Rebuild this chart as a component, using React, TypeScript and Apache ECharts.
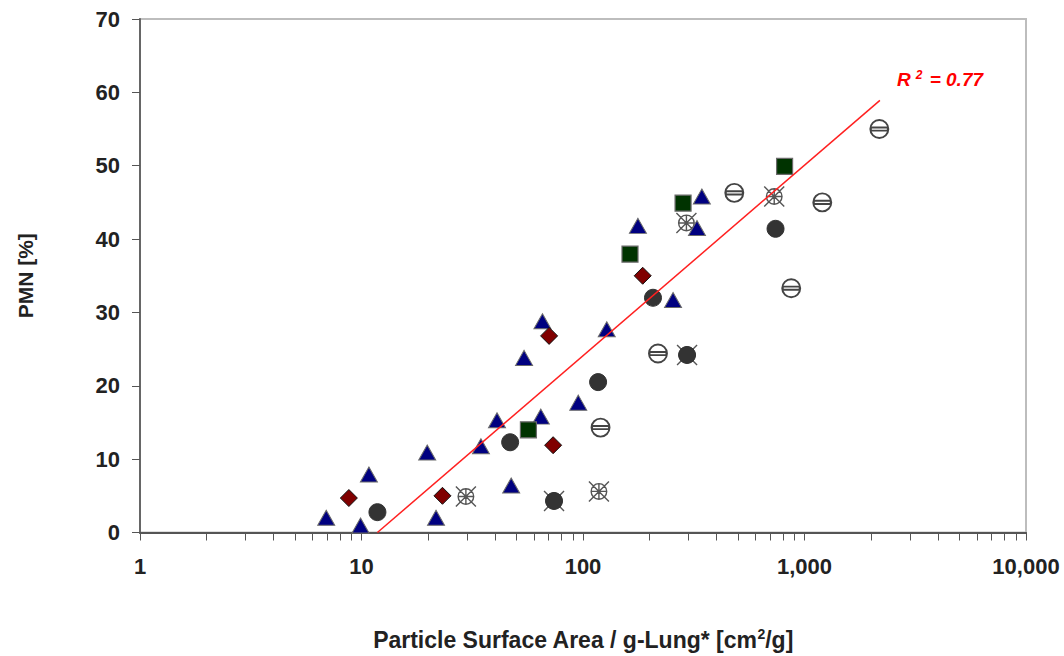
import React, { useEffect, useRef } from "react";
import * as echarts from "echarts";

// Tick values
const xLabelTicks = [1, 10, 100, 1000, 10000];
const xMinorTicks = [
  1, 2, 3, 4, 5, 6, 7, 8, 9,
  10, 20, 30, 40, 50, 60, 70, 80, 90,
  100, 200, 300, 400, 500, 600, 700, 800, 900,
  1000, 2000, 3000, 4000, 5000, 6000, 7000, 8000, 9000,
  10000,
];

// Data series [surface area cm2/g-lung, PMN %]
const triangles: number[][] = [
  [6.93, 2.0], [9.9, 0.95], [10.8, 7.9], [19.8, 10.9], [21.7, 2.0],
  [34.6, 11.75], [40.9, 15.3], [47.4, 6.4], [54.2, 23.8], [64.5, 15.8],
  [65.6, 28.8], [95.2, 17.7], [128, 27.7], [177, 41.8], [255, 31.7],
  [327, 41.5], [344, 45.8],
];
const darkCircles: number[][] = [
  [11.8, 2.77], [46.9, 12.3], [74, 4.3], [117, 20.5], [207, 32],
  [295, 24.2], [740, 41.4],
];
const diamonds: number[][] = [
  [8.77, 4.7], [23.2, 5.0], [70.3, 26.8], [73.3, 11.9], [186, 35],
];
const squares: number[][] = [
  [56.7, 14.0], [163, 37.95], [283, 44.9], [813, 49.9],
];
const crossedCircles: number[][] = [
  [29.6, 4.9], [74, 4.3], [118, 5.6], [293, 42.2], [295, 24.2], [730, 45.8],
];
const barCircles: number[][] = [
  [120, 14.3], [218, 24.4], [482, 46.3], [871, 33.3], [1203, 45.0], [2177, 55],
];
const fitLine: number[][] = [
  [11.8, 0], [2190, 58.9],
];

const CROSSED_PATH =
  "path://M3,10 A7,7 0 1,0 17,10 A7,7 0 1,0 3,10 Z M1,1 L19,19 M19,1 L1,19 M10,3 L10,17 M3,10 L17,10";
const BAR_PATH =
  "path://M2,10 A8,8 0 1,0 18,10 A8,8 0 1,0 2,10 Z M2.5,8.6 L17.5,8.6 L17.5,11.4 L2.5,11.4 Z";

const FONT = "'Liberation Sans', Arial, sans-serif";

export default function App() {
  const ref = useRef<HTMLDivElement>(null);

  useEffect(() => {
    if (!ref.current) return;
    const chart = echarts.init(ref.current, undefined, { renderer: "svg" });
    const option: any = {
      animation: false,
      backgroundColor: "#ffffff",
      grid: {
        left: 140,
        top: 19,
        right: 38,
        bottom: 123,
        show: true,
        borderColor: "#bdbdbd",
        borderWidth: 2,
        backgroundColor: "transparent",
      },
      xAxis: {
        type: "log",
        logBase: 10,
        min: 1,
        max: 10000,
        name: "{a|Particle Surface Area / g-Lung* [cm}{s|2}{a|/g]}",
        nameLocation: "middle",
        nameGap: 94,
        nameTextStyle: {
          rich: {
            a: { fontFamily: FONT, fontWeight: "bold", fontSize: 23, color: "#222" },
            s: { fontFamily: FONT, fontWeight: "bold", fontSize: 14, color: "#222", verticalAlign: "top", padding: [0, 0, 12, 0] },
          },
        },
        axisLine: { show: true, lineStyle: { color: "#555", width: 2 } },
        axisTick: {
          show: true,
          inside: false,
          length: 8,
          customValues: xMinorTicks,
          lineStyle: { color: "#555", width: 1 },
        },
        axisLabel: {
          customValues: xLabelTicks,
          margin: 23,
          fontFamily: FONT,
          fontWeight: "bold",
          fontSize: 22,
          color: "#222",
          formatter: (v: number) => Math.round(v).toLocaleString("en-US"),
        },
        splitLine: { show: false },
        minorTick: { show: false },
      },
      yAxis: {
        type: "value",
        min: 0,
        max: 70,
        interval: 10,
        name: "PMN [%]",
        nameLocation: "middle",
        nameGap: 104,
        nameTextStyle: { fontFamily: FONT, fontWeight: "bold", fontSize: 21, color: "#222" },
        axisLine: { show: true, lineStyle: { color: "#666", width: 2 } },
        axisTick: { show: true, inside: false, length: 8, lineStyle: { color: "#555", width: 1 } },
        axisLabel: {
          margin: 20,
          fontFamily: FONT,
          fontWeight: "bold",
          fontSize: 22,
          color: "#222",
        },
        splitLine: { show: false },
      },
      graphic: [
        {
          type: "text",
          left: 897,
          top: 69,
          style: {
            text: "{r|R}{s|2}{r| = 0.77}",
            rich: {
              r: { fontFamily: FONT, fontWeight: "bold", fontStyle: "italic", fontSize: 19, fill: "#ff0000", color: "#ff0000" },
              s: { fontFamily: FONT, fontWeight: "bold", fontStyle: "italic", fontSize: 12, fill: "#ff0000", color: "#ff0000", verticalAlign: "top", padding: [0, 2, 9, 5] },
            },
          },
        },
      ],
      series: [
        {
          type: "scatter",
          name: "crossed",
          data: crossedCircles,
          symbol: CROSSED_PATH,
          symbolSize: 20,
          itemStyle: { color: "#ffffff", borderColor: "#555", borderWidth: 1.4, opacity: 1 },
          z: 2,
        },
        {
          type: "scatter",
          name: "bar",
          data: barCircles,
          symbol: BAR_PATH,
          symbolSize: 18,
          itemStyle: { color: "#ffffff", borderColor: "#444", borderWidth: 1.9, opacity: 1 },
          z: 2,
        },
        {
          type: "scatter",
          name: "triangles",
          data: triangles,
          symbol: "triangle",
          symbolSize: [17, 15],
          itemStyle: { color: "#000080", borderColor: "#6a6a6a", borderWidth: 1, opacity: 1 },
          z: 3,
        },
        {
          type: "scatter",
          name: "diamonds",
          data: diamonds,
          symbol: "diamond",
          symbolSize: 17,
          itemStyle: { color: "#800000", borderColor: "#111", borderWidth: 1, opacity: 1 },
          z: 3,
        },
        {
          type: "scatter",
          name: "squares",
          data: squares,
          symbol: "rect",
          symbolSize: 16,
          itemStyle: { color: "#003300", borderColor: "#6a6a6a", borderWidth: 1.2, opacity: 1 },
          z: 3,
        },
        {
          type: "scatter",
          name: "circles",
          data: darkCircles,
          symbol: "circle",
          symbolSize: 17,
          itemStyle: { color: "#333333", borderColor: "#333333", borderWidth: 1, opacity: 1 },
          z: 4,
        },
        {
          type: "line",
          name: "fit",
          data: fitLine,
          showSymbol: false,
          symbol: "none",
          lineStyle: { color: "#ff2020", width: 1.5 },
          z: 5,
        },
      ],
    };
    chart.setOption(option);
    return () => chart.dispose();
  }, []);

  return (
    <div
      ref={ref}
      style={{ position: "fixed", left: 0, top: 0, width: 1064, height: 656, background: "#fff" }}
    />
  );
}
